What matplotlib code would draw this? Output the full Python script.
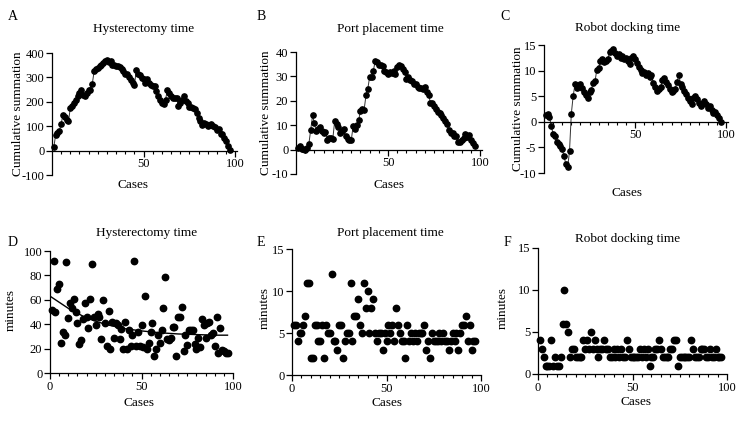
import numpy as np
import matplotlib.pyplot as plt
from matplotlib.ticker import FixedLocator

plt.rcParams['font.family'] = ['Liberation Serif', 'DejaVu Serif']
plt.rcParams['axes.unicode_minus'] = False

cases = np.arange(1, 98)

# cumulative summation curves (top row)
hyst_cusum = [14, 65, 72, 79, 110, 147, 138, 127, 120, 175,
              182, 195, 209, 222, 236, 247, 229, 222, 236, 247,
              250, 274, 325, 334, 339, 348, 352, 359, 366, 370,
              362, 366, 352, 352, 345, 345, 343, 336, 328, 315,
              313, 300, 291, 277, 268, 329, 315, 311, 298, 295,
              277, 295, 277, 270, 266, 266, 243, 222, 209, 195,
              192, 209, 250, 236, 225, 216, 216, 216, 184, 195,
              209, 222, 202, 195, 179, 177, 175, 171, 154, 134,
              120, 106, 113, 110, 102, 106, 110, 102, 97, 86,
              89, 66, 66, 52, 38, 18, 1]
port_cusum = [0.8, 1.5, 0.3, 0.1, -0.1, 0.6, 2.4, 8.2, 14.0, 10.7,
              7.5, 8.3, 9.1, 7.8, 6.6, 7.4, 4.1, 4.9, 4.7, 4.5,
              11.7, 10.5, 9.3, 7.0, 7.8, 8.6, 5.4, 4.2, 4.0, 3.8,
              9.5, 8.4, 10.2, 12.0, 15.8, 16.6, 16.4, 22.2, 25.0, 29.8,
              29.6, 32.4, 36.2, 36.0, 34.8, 34.6, 34.4, 32.2, 32.0, 30.8,
              31.6, 31.4, 32.2, 31.0, 33.8, 34.6, 34.4, 33.2, 32.0, 28.8,
              29.6, 28.4, 28.2, 27.0, 26.8, 25.6, 25.4, 25.2, 25.0, 25.8,
              23.6, 22.4, 19.2, 19.0, 17.8, 16.6, 15.4, 15.2, 14.0, 12.8,
              11.6, 10.4, 8.2, 7.0, 6.8, 5.6, 5.4, 3.2, 3.0, 3.8,
              4.6, 6.4, 5.2, 6.0, 3.8, 2.6, 1.4]
dock_cusum = [1.4, 1.5, 0.9, -0.8, -2.4, -2.7, -4.0, -4.3, -4.8, -5.4,
              -6.7, -8.3, -8.9, -5.7, 1.6, 5.0, 7.3, 6.6, 6.9, 7.3,
              6.6, 5.9, 5.3, 4.6, 5.9, 6.3, 7.6, 7.9, 10.2, 10.6,
              11.9, 12.2, 11.6, 11.9, 12.2, 13.6, 13.9, 14.2, 13.5, 12.9,
              13.2, 12.5, 12.9, 12.2, 12.5, 11.9, 11.2, 12.5, 12.8, 12.2,
              11.5, 10.8, 10.2, 9.5, 9.8, 9.2, 9.5, 8.8, 9.1, 7.5,
              6.8, 6.1, 6.5, 6.8, 8.1, 8.5, 7.8, 7.1, 6.4, 5.8,
              6.1, 6.4, 7.8, 9.1, 7.4, 6.8, 6.1, 5.4, 4.7, 4.1,
              3.4, 4.7, 5.1, 4.4, 3.7, 3.1, 3.4, 4.0, 3.4, 2.7,
              3.0, 2.4, 1.7, 2.0, 1.4, 0.7, 0.0]

# minutes per case (bottom row)
hyst_min = [52, 92, 50, 69, 73, 25, 34, 31, 91, 45,
            57, 53, 61, 50, 41, 24, 27, 44, 57, 46,
            37, 61, 89, 46, 39, 48, 46, 28, 60, 41,
            22, 51, 20, 42, 29, 41, 39, 28, 36, 20,
            42, 20, 35, 22, 31, 92, 22, 34, 22, 39,
            21, 63, 20, 25, 34, 41, 14, 20, 31, 25,
            35, 53, 79, 28, 27, 29, 38, 38, 14, 46,
            46, 54, 18, 31, 23, 35, 35, 35, 24, 20,
            29, 21, 44, 39, 29, 41, 42, 31, 33, 22,
            46, 16, 37, 19, 18, 16, 16]
port_min = [6, 6, 4, 5, 5, 6, 7, 11, 11, 2,
            2, 6, 6, 4, 4, 6, 2, 6, 5, 5,
            12, 4, 4, 3, 6, 6, 2, 4, 5, 5,
            11, 4, 7, 7, 9, 6, 5, 11, 8, 10,
            5, 8, 9, 5, 4, 5, 5, 3, 5, 4,
            6, 5, 6, 4, 8, 6, 5, 4, 4, 2,
            6, 4, 5, 4, 5, 4, 5, 5, 5, 6,
            3, 4, 2, 5, 4, 4, 4, 5, 4, 5,
            4, 4, 3, 4, 5, 4, 5, 3, 5, 6,
            6, 7, 4, 6, 3, 4, 4]
dock_min = [4, 3, 2, 1, 1, 1, 4, 1, 2, 1,
            1, 2, 6, 10, 6, 5, 2, 3, 3, 2,
            2, 2, 2, 4, 3, 4, 3, 5, 3, 4,
            3, 2, 3, 3, 4, 3, 3, 2, 2, 3,
            2, 3, 2, 3, 2, 2, 4, 3, 2, 2,
            2, 2, 2, 3, 2, 3, 2, 3, 1, 2,
            2, 3, 3, 4, 3, 2, 2, 2, 2, 3,
            3, 4, 4, 1, 2, 2, 2, 2, 2, 2,
            4, 3, 2, 2, 2, 3, 3, 3, 2, 2,
            3, 2, 2, 3, 2, 2, 2]

# fitted curve for hysterectomy time
fit_x = [0, 10, 20, 30, 40, 50, 60, 70, 80, 90, 97]
fit_y = [63, 53, 45, 40, 36.5, 34.5, 33, 32, 31.5, 31, 31]

W, H = 750, 438
fig = plt.figure(figsize=(7.5, 4.38), dpi=100)


def px_ax(l, t, r, b):
    return fig.add_axes([l / W, 1 - b / H, (r - l) / W, (b - t) / H])


def ftext(x, y, s, **kw):
    fig.text(x / W, 1 - y / H, s, ha='center', va='center', **kw)


def style(ax):
    for s in ['top', 'right']:
        ax.spines[s].set_visible(False)
    for s in ['left', 'bottom']:
        ax.spines[s].set_linewidth(0.9)
    ax.tick_params(which='major', direction='out', length=4, width=0.9, labelsize=9, pad=1.5)
    ax.tick_params(which='minor', direction='out', length=2.5, width=0.8)


# top row: cusum
top = [
    ('A', 'Hysterectomy time', hyst_cusum, (52, 53, 237, 175), (-100, 400), [-100, 0, 100, 200, 300, 400],
     (13, 17), (144, 29), (18, 114), (133, 185)),
    ('B', 'Port placement time', port_cusum, (296, 52, 482, 174), (-10, 40), [-10, 0, 10, 20, 30, 40],
     (261, 17), (390, 29), (266, 113), (389, 185)),
    ('C', 'Robot docking time', dock_cusum, (544, 45, 728, 173), (-10, 15), [-10, -5, 0, 5, 10, 15],
     (505, 16), (628, 28), (518, 109), (627, 193)),
]
for letter, title, vals, box, ylim, yt, lpos, tpos, ypos, xpos in top:
    ax = px_ax(*box)
    ax.plot(cases, vals, '-', color='#333333', lw=0.7, marker='o', ms=3.8,
            mfc='black', mec='black', clip_on=False)
    ax.set_xlim(0, 101)
    ax.set_ylim(*ylim)
    style(ax)
    ax.spines['bottom'].set_position(('data', 0))
    ax.xaxis.set_major_locator(FixedLocator([50, 100]))
    ax.xaxis.set_minor_locator(FixedLocator([v for v in range(5, 100, 5) if v != 50]))
    ax.set_yticks(yt)
    ftext(*lpos, letter, fontsize=10)
    ftext(*tpos, title, fontsize=9.5)
    ftext(*ypos, 'Cumulative summation', fontsize=9.5, rotation=90)
    ftext(*xpos, 'Cases', fontsize=9.5)

# bottom row: minutes
bottom = [
    ('D', 'Hysterectomy time', hyst_min, (50, 251, 233, 373), (0, 100), [0, 20, 40, 60, 80, 100],
     (13, 242), (147, 233), (11, 310), (139, 403)),
    ('E', 'Port placement time', port_min, (292, 249, 481, 375), (0, 15), [0, 5, 10, 15],
     (261, 242), (390, 233), (265, 308), (387, 403)),
    ('F', 'Robot docking time', dock_min, (538, 248, 727, 374), (0, 15), [0, 5, 10, 15],
     (507, 242), (628, 239), (503, 308), (636, 402)),
]
for letter, title, vals, box, ylim, yt, lpos, tpos, ypos, xpos in bottom:
    ax = px_ax(*box)
    ax.plot(cases, vals, 'o', color='black', ms=4.6, clip_on=False)
    if letter == 'D':
        ax.plot(fit_x, fit_y, '-', color='black', lw=1.0)
    ax.set_xlim(0, 100)
    ax.set_ylim(*ylim)
    style(ax)
    ax.xaxis.set_major_locator(FixedLocator([0, 50, 100]))
    ax.xaxis.set_minor_locator(FixedLocator([v for v in range(5, 100, 5) if v != 50]))
    ax.set_yticks(yt)
    ftext(*lpos, letter, fontsize=10)
    ftext(*tpos, title, fontsize=9.5)
    ftext(*ypos, 'minutes', fontsize=9.5, rotation=90)
    ftext(*xpos, 'Cases', fontsize=9.5)

fig.savefig('out.png', dpi=100)
